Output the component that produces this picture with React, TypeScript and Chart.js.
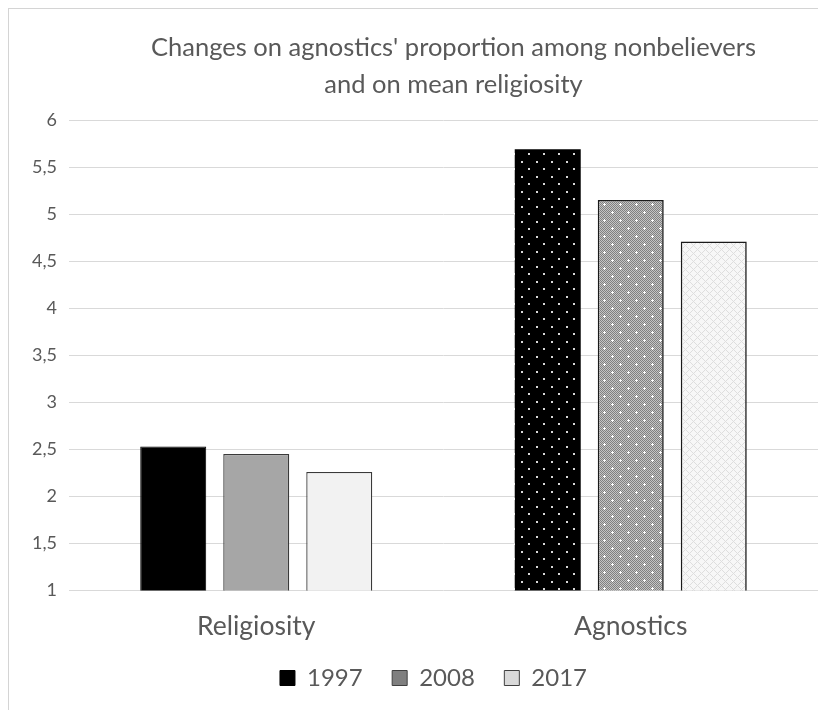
import React, { useEffect, useRef } from "react";
import { Chart, registerables } from "chart.js";

Chart.register(...registerables);

const titleLines = ["Changes on agnostics' proportion among nonbelievers", "and on mean religiosity"];
const categories = ["Religiosity", "Agnostics"];
const seriesLabels = ["1997", "2008", "2017"];
const values1997 = [2.53, 5.69];
const values2008 = [2.45, 5.15];
const values2017 = [2.26, 4.71];
const yMin = 1;
const yMax = 6;
const yStep = 0.5;

const FONT = "Lato, 'Open Sans', sans-serif";
const TEXT = "#595959";

function makePattern(ctx: CanvasRenderingContext2D, kind: number): CanvasPattern | string {
  const c = document.createElement("canvas");
  const g = c.getContext("2d");
  if (!g) return "#888";
  if (kind === 1) {
    c.width = 15; c.height = 15;
    g.fillStyle = "#000"; g.fillRect(0, 0, 15, 15);
    g.fillStyle = "#d8d8d8";
    g.fillRect(2, 2, 2, 2);
    g.fillRect(9, 9, 2, 2);
  } else if (kind === 2) {
    c.width = 16; c.height = 16;
    for (let x = 0; x < 16; x++) for (let y = 0; y < 16; y++) {
      g.fillStyle = (x + y) % 2 === 0 ? "#808080" : "#c4c4c4";
      g.fillRect(x, y, 1, 1);
    }
    g.fillStyle = "#ffffff";
    for (const [cx, cy] of [[3, 3], [11, 11]]) {
      g.fillRect(cx, cy - 1, 1, 3);
      g.fillRect(cx - 1, cy, 3, 1);
    }
  } else {
    c.width = 8; c.height = 8;
    g.fillStyle = "#f7f7f7"; g.fillRect(0, 0, 8, 8);
    g.fillStyle = "#dedede";
    for (let x = 0; x < 8; x++) for (let y = 0; y < 8; y++) {
      if ((x + y) % 8 === 0 || (x - y + 8) % 8 === 0) g.fillRect(x, y, 1, 1);
    }
  }
  return ctx.createPattern(c, "repeat") || "#888";
}

const nudge = {
  id: "nudge",
  afterLayout(chart: any) {
    const t = chart.titleBlock;
    if (t) { t.left += 10; t.right += 10; }
    const l = chart.legend;
    if (l) { l.left -= 10; l.right -= 10; l.top -= 10; l.bottom -= 10; }
  },
};

export default function App() {
  const ref = useRef<HTMLCanvasElement>(null);
  useEffect(() => {
    const canvas = ref.current;
    if (!canvas) return;
    const ctx = canvas.getContext("2d")!;
    const p1 = makePattern(ctx, 1);
    const p2 = makePattern(ctx, 2);
    const p3 = makePattern(ctx, 3);
    const legendFill = ["#000000", "#7f7f7f", "#d9d9d9"];
    const legendStroke = ["#000000", "#404040", "#404040"];
    const chart = new Chart(canvas, {
      type: "bar",
      data: {
        labels: categories,
        datasets: [
          {
            label: seriesLabels[0],
            data: values1997,
            backgroundColor: ["#000000", p1],
            borderColor: ["#000000", "#000000"],
            borderWidth: [1, 0],
          },
          {
            label: seriesLabels[1],
            data: values2008,
            backgroundColor: ["#a6a6a6", p2],
            borderColor: ["#3a3a3a", "#1a1a1a"],
            borderWidth: [1.3, 1.6],
          },
          {
            label: seriesLabels[2],
            data: values2017,
            backgroundColor: ["#f2f2f2", p3],
            borderColor: ["#3a3a3a", "#1a1a1a"],
            borderWidth: [1.3, 1.6],
          },
        ] as any,
      },
      plugins: [nudge],
      options: {
        animation: false,
        responsive: false,
        layout: { padding: { left: 0, right: 8, top: 0, bottom: 0 } },
        datasets: { bar: { barPercentage: 0.795, categoryPercentage: 0.665 } },
        plugins: {
          title: {
            display: true,
            text: titleLines,
            color: TEXT,
            fullSize: false,
            font: { family: FONT, size: 25.5, weight: "normal", lineHeight: 1.42 },
            padding: { top: 21, bottom: 17.6 },
          },
          legend: {
            position: "bottom",
            fullSize: false,
            labels: {
              color: TEXT,
              font: { family: FONT, size: 24 },
              boxWidth: 15,
              boxHeight: 15,
              padding: 29.5,
              generateLabels: (ch: any) =>
                ch.data.datasets.map((ds: any, i: number) => ({
                  text: ds.label,
                  fillStyle: legendFill[i],
                  strokeStyle: legendStroke[i],
                  lineWidth: 1,
                  hidden: false,
                  datasetIndex: i,
                  fontColor: TEXT,
                })),
            },
          },
          tooltip: { enabled: false },
        },
        scales: {
          x: {
            grid: { display: false },
            border: { display: false },
            ticks: { color: TEXT, font: { family: FONT, size: 26.5 }, padding: 12 },
            afterFit: (s: any) => { s.height = 56; },
          },
          y: {
            min: yMin,
            max: yMax,
            grid: { color: "#d9d9d9", lineWidth: 1, drawTicks: false },
            border: { display: false },
            ticks: {
              stepSize: yStep,
              color: TEXT,
              padding: 12,
              font: { family: FONT, size: 18 },
              callback: (v: any) => String(v).replace(".", ","),
            },
            afterFit: (s: any) => { s.width = 60; },
          },
        },
      },
    });
    return () => chart.destroy();
  }, []);
  return (
    <div style={{ width: 817, height: 701, borderTop: "1px solid #d4d4d4", borderLeft: "1px solid #d4d4d4" }}>
      <canvas ref={ref} width={817} height={701} style={{ display: "block" }} />
    </div>
  );
}
